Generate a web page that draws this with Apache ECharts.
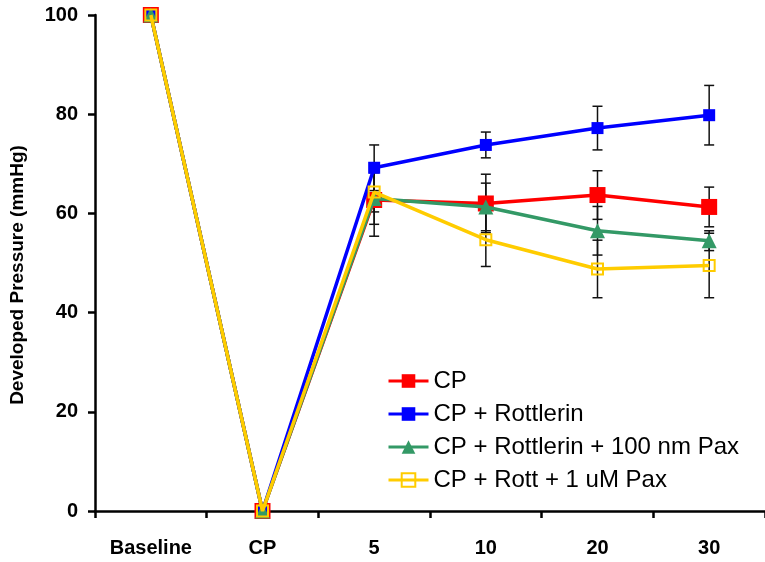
<!DOCTYPE html>
<html>
<head>
<meta charset="utf-8">
<script src="https://cdn.jsdelivr.net/npm/echarts@6/dist/echarts.min.js"></script>
<style>
html,body{margin:0;padding:0;background:#fff;}
#chart{width:765px;height:562px;}
</style>
</head>
<body>
<div id="chart"></div>
<script>
var categories = ['Baseline', 'CP', '5', '10', '20', '30'];
var seriesNames = ['CP', 'CP + Rottlerin', 'CP + Rottlerin + 100 nm Pax', 'CP + Rott + 1 uM Pax'];
var cpValues = [100, 0, 62.7, 62.0, 63.7, 61.3];
var cpErr = [0, 0, 7.3, 5.9, 4.9, 4.0];
var rottValues = [100, 0, 69.2, 73.8, 77.2, 79.8];
var rottErr = [0, 0, 4.6, 2.6, 4.4, 6.0];
var pax100Values = [100, 0, 63.0, 61.3, 56.5, 54.5];
var pax100Err = [0, 0, 5.2, 4.8, 4.9, 2.0];
var pax1Values = [100, 0, 64.3, 54.7, 48.8, 49.5];
var pax1Err = [0, 0, 4.0, 5.4, 5.8, 6.5];
var yTicks = [0, 20, 40, 60, 80, 100];
var yAxisTitle = 'Developed Pressure (mmHg)';

var FONT = 'Liberation Sans, Arial, sans-serif';
var chart = echarts.init(document.getElementById('chart'), null, {renderer: 'canvas'});

var groups = [
  {vals: cpValues, err: cpErr},
  {vals: rottValues, err: rottErr},
  {vals: pax100Values, err: pax100Err},
  {vals: pax1Values, err: pax1Err}
];
var errData = [];
groups.forEach(function (g) {
  g.vals.forEach(function (v, i) {
    if (g.err[i] > 0) errData.push([i, v, g.err[i]]);
  });
});

var styles = [
  {color: '#FF0000', symbol: 'rect', size: 16, fill: '#FF0000', border: 0},
  {color: '#0000FF', symbol: 'rect', size: 12, fill: '#0000FF', border: 0},
  {color: '#339966', symbol: 'triangle', size: 15, fill: '#339966', border: 0},
  {color: '#FFCC00', symbol: 'rect', size: 11, fill: 'rgba(255,255,255,0)', border: 2}
];
var valueLists = [cpValues, rottValues, pax100Values, pax1Values];

var series = [{
  type: 'custom',
  z: 1,
  silent: true,
  data: errData,
  renderItem: function (params, api) {
    var i = api.value(0), v = api.value(1), e = api.value(2);
    var top = api.coord([i, v + e]);
    var bot = api.coord([i, v - e]);
    var hw = 5;
    var st = {stroke: '#111', lineWidth: 1.5};
    return {
      type: 'group',
      children: [
        {type: 'line', shape: {x1: top[0], y1: top[1], x2: bot[0], y2: bot[1]}, style: st},
        {type: 'line', shape: {x1: top[0] - hw, y1: top[1], x2: top[0] + hw, y2: top[1]}, style: st},
        {type: 'line', shape: {x1: bot[0] - hw, y1: bot[1], x2: bot[0] + hw, y2: bot[1]}, style: st}
      ]
    };
  }
}];
seriesNames.forEach(function (name, k) {
  var s = styles[k];
  series.push({
    name: name,
    type: 'line',
    z: 2 + k,
    data: valueLists[k],
    symbol: s.symbol,
    symbolSize: s.size,
    showAllSymbol: true,
    lineStyle: {color: s.color, width: 3.5},
    itemStyle: {color: s.fill, borderColor: s.color, borderWidth: s.border},
    emphasis: {disabled: true},
    animation: false
  });
});

chart.setOption({
  animation: false,
  backgroundColor: '#ffffff',
  grid: {left: 95, right: -2, top: 15, bottom: 51, containLabel: false},
  legend: {
    data: seriesNames,
    orient: 'vertical',
    left: 382,
    top: 364,
    itemWidth: 40,
    itemHeight: 17,
    itemGap: 9,
    lineStyle: {width: 3},
    textStyle: {fontFamily: FONT, fontSize: 24, lineHeight: 24, color: '#000'}
  },
  graphic: [{
    type: 'text',
    x: 18,
    y: 275,
    rotation: Math.PI / 2,
    style: {
      text: yAxisTitle,
      fontFamily: FONT,
      fontSize: 19,
      fontWeight: 'bold',
      fill: '#000',
      align: 'center',
      verticalAlign: 'middle'
    }
  }],
  xAxis: {
    type: 'category',
    data: categories,
    boundaryGap: true,
    axisLine: {lineStyle: {color: '#000', width: 2.5}},
    axisTick: {show: true, alignWithLabel: false, length: 7, lineStyle: {color: '#000', width: 2.5}},
    axisLabel: {fontFamily: FONT, fontSize: 20, fontWeight: 'bold', color: '#000', margin: 27, interval: 0},
    splitLine: {show: false}
  },
  yAxis: {
    type: 'value',
    min: yTicks[0],
    max: yTicks[yTicks.length - 1],
    interval: 20,
    axisLine: {show: true, lineStyle: {color: '#000', width: 2.5}},
    axisTick: {show: true, length: 7, lineStyle: {color: '#000', width: 2.5}},
    axisLabel: {fontFamily: FONT, fontSize: 20, fontWeight: 'bold', color: '#000', margin: 17},
    splitLine: {show: false}
  },
  series: series
});
</script>
</body>
</html>
